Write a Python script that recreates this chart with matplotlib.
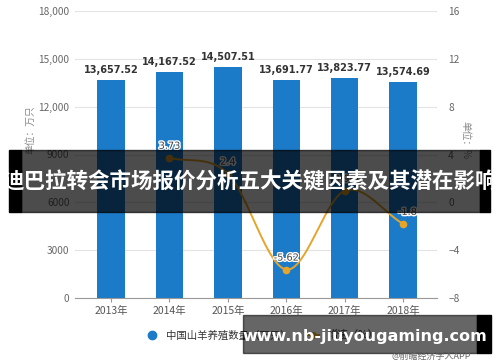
import numpy as np
import matplotlib
matplotlib.use("Agg")
import matplotlib.pyplot as plt
from matplotlib.patches import Rectangle
from matplotlib.lines import Line2D
import matplotlib.patheffects as pe

plt.rcParams['font.family'] = ['Noto Sans CJK SC', 'DejaVu Sans']

years = ["2013年", "2014年", "2015年", "2016年", "2017年", "2018年"]
goats = [13657.52, 14167.52, 14507.51, 13691.77, 13823.77, 13574.69]
growth = [None, 3.73, 2.4, -5.62, 0.96, -1.8]
left_ticks = [0, 3000, 6000, 9000, 12000, 15000, 18000]
left_tick_labels = ["0", "3000", "6000", "9000", "12,000", "15,000", "18,000"]
right_ticks = [-8, -4, 0, 4, 8, 12, 16]

BAR = "#1B7BC9"
LINE = "#E6A52A"
W, H = 500, 362

fig = plt.figure(figsize=(5, 3.62), dpi=100)
ax = fig.add_axes([75 / W, 1 - 298 / H, 362 / W, 287 / H])
x = np.arange(len(years))
ax.bar(x, goats, width=0.47, color=BAR, zorder=2)
ax.set_xlim(-0.616, 5.58)
ax.set_ylim(0, 18000)
ax.set_yticks(left_ticks)
ax.set_yticklabels(left_tick_labels)
ax.set_xticks(x)
ax.set_xticklabels(years)
ax.grid(axis='y', color='#e3e3e3', linewidth=0.8, zorder=0)
for s in ['top', 'right', 'left']:
    ax.spines[s].set_visible(False)
ax.spines['bottom'].set_color('#999999')
ax.tick_params(axis='y', length=0, colors='#666666', labelsize=7.3, pad=4)
ax.tick_params(axis='x', length=3, colors='#999999', labelcolor='#555555', labelsize=7.5, pad=3)
for xi, v in zip(x, goats):
    ax.annotate(f"{v:,.2f}", (xi, v), xytext=(0, 3.5), textcoords='offset points',
                ha='center', va='bottom', fontsize=7, fontweight='bold', color='#333333',
                family=['DejaVu Sans'])

ax2 = ax.twinx()
ax2.set_ylim(-8, 16)
ax2.set_yticks(right_ticks)
for s in ['top', 'right', 'left', 'bottom']:
    ax2.spines[s].set_visible(False)
ax2.tick_params(axis='y', length=0, colors='#666666', labelsize=7.3, pad=8)

gx = np.array([i for i, g in enumerate(growth) if g is not None], dtype=float)
gy = np.array([g for g in growth if g is not None], dtype=float)
# Catmull-Rom smoothing through the data points
px = np.concatenate([[2 * gx[0] - gx[1]], gx, [2 * gx[-1] - gx[-2]]])
py = np.concatenate([[2 * gy[0] - gy[1]], gy, [2 * gy[-1] - gy[-2]]])
sx, sy = [], []
t = np.linspace(0, 1, 40)
for i in range(1, len(px) - 2):
    p0, p1, p2, p3 = [np.array([px[j], py[j]]) for j in range(i - 1, i + 3)]
    for tt in t:
        pt = 0.5 * ((2 * p1) + (-p0 + p2) * tt + (2 * p0 - 5 * p1 + 4 * p2 - p3) * tt ** 2
                    + (-p0 + 3 * p1 - 3 * p2 + p3) * tt ** 3)
        sx.append(pt[0]); sy.append(pt[1])
ax2.plot(sx, sy, color=LINE, linewidth=1.4, zorder=3)
ax2.plot(gx, gy, 'o', color=LINE, markersize=4.5, zorder=4)
offsets = [(0, 5), (0, 5), (0, 5), (0, 5), (3, 5)]
for (xi, yi), off in zip(zip(gx, gy), offsets):
    ax2.annotate(f"{yi:g}", (xi, yi), xytext=off, textcoords='offset points',
                 ha='center', va='bottom', fontsize=7, color='#444444', family=['DejaVu Sans'],
                 path_effects=[pe.withStroke(linewidth=2, foreground='white')])

fig.text(30 / W, 1 - 130 / H, "单位：万只", rotation=90, ha='center', va='center',
         fontsize=7, color='#888888')
fig.text(465 / W, 1 - 140 / H, "单位：%", rotation=270, ha='center', va='center',
         fontsize=7, color='#888888')

handles = [Line2D([], [], marker='o', linestyle='None', color=BAR, markersize=6),
           Line2D([], [], marker='o', color=LINE, markersize=4, linewidth=1.4)]
fig.legend(handles, ["中国山羊养殖数量（万只）", "增速（%）"], loc='center',
           bbox_to_anchor=(262 / W, 1 - 335 / H), ncol=2, frameon=False, fontsize=7.5,
           handlelength=1.2, columnspacing=1.5, labelcolor='#333333')

# title banner
fig.patches.append(Rectangle((21 / W, 1 - 212 / H), 459 / W, 62 / H, transform=fig.transFigure,
                             color='black', alpha=0.7, zorder=10))
fig.patches.append(Rectangle((9 / W, 1 - 212 / H), 12 / W, 62 / H, transform=fig.transFigure,
                             color='black', zorder=10))
fig.patches.append(Rectangle((480 / W, 1 - 212 / H), 10 / W, 62 / H, transform=fig.transFigure,
                             color='black', zorder=10))
fig.text(0.5, 1 - 182 / H, "迪巴拉转会市场报价分析五大关键因素及其潜在影响", ha='center', va='center',
         fontsize=15.5, fontweight='bold', color='white', zorder=11)

# bottom banner
fig.patches.append(Rectangle((243 / W, 1 - 353 / H), 234 / W, 38 / H, transform=fig.transFigure,
                             color='black', alpha=0.6, zorder=10))
fig.patches.append(Rectangle((477 / W, 1 - 353 / H), 14 / W, 38 / H, transform=fig.transFigure,
                             color='black', zorder=10))
fig.text(365 / W, 1 - 336 / H, "www.nb-jiuyougaming.com", ha='center', va='center',
         fontsize=11.5, fontweight='bold', color='white', zorder=11, family=['DejaVu Sans'])
fig.text(431 / W, 1 - 356 / H, "@前瞻经济学人APP", ha='center', va='center',
         fontsize=6.5, color='#666666', zorder=12)

fig.savefig("out.png", dpi=100)
